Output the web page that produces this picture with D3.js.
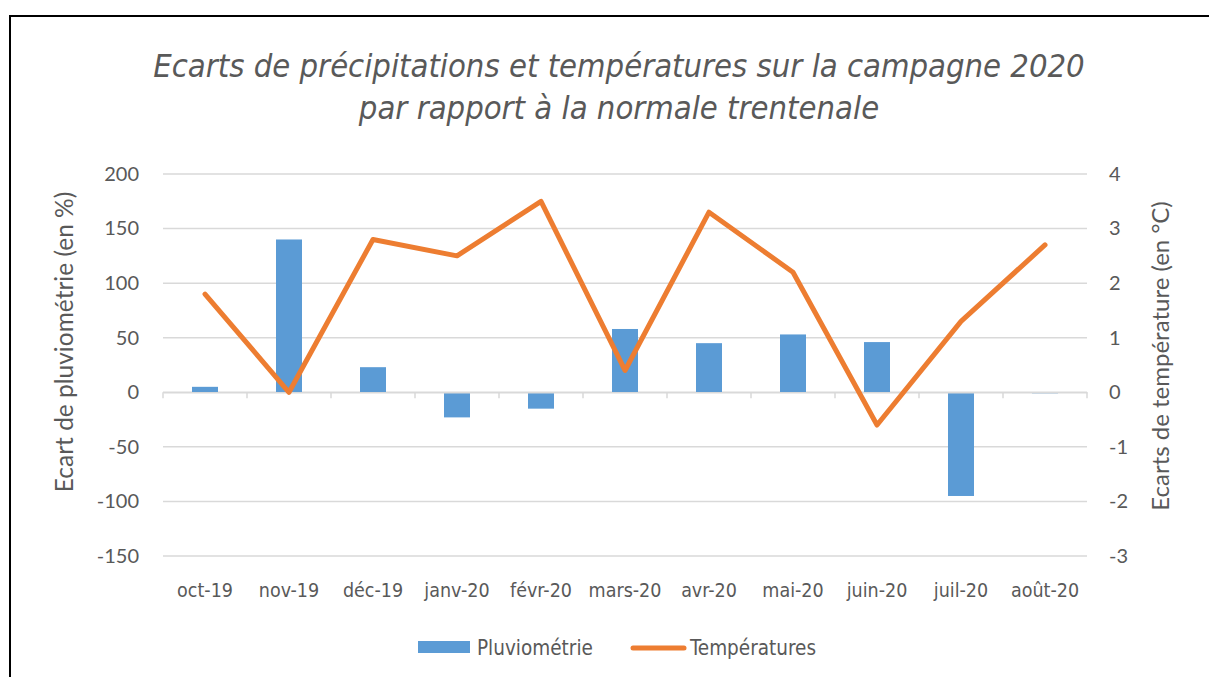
<!DOCTYPE html>
<html>
<head>
<meta charset="utf-8">
<script src="https://cdn.jsdelivr.net/npm/d3@7"></script>
<style>
body { margin: 0; background: #fff; }
text { fill: #595959; }
.tick text { font-family: Lato, "Open Sans", sans-serif; font-size: 20px; }
.cat text { font-family: "DejaVu Sans Condensed", "DejaVu Sans", sans-serif; font-size: 19.5px; }
</style>
</head>
<body>
<div id="graph"></div>
<script>
var months = ['oct-19', 'nov-19', 'déc-19', 'janv-20', 'févr-20', 'mars-20', 'avr-20', 'mai-20', 'juin-20', 'juil-20', 'août-20'];
var pluvio = [5, 140, 23, -23, -15, 58, 45, 53, 46, -95, -1];
var temps = [1.8, 0, 2.8, 2.5, 3.5, 0.4, 3.3, 2.2, -0.6, 1.3, 2.7];
var leftTicks = [-150, -100, -50, 0, 50, 100, 150, 200];
var rightTicks = [-3, -2, -1, 0, 1, 2, 3, 4];

var svgWidth = 1209, svgHeight = 677;
var svg = d3.select('#graph').append('svg').attr('width', svgWidth).attr('height', svgHeight);

// frame
svg.append('rect').attr('x', 10).attr('y', 16).attr('width', 1230).attr('height', 700)
  .attr('fill', 'none').attr('stroke', '#000').attr('stroke-width', 2);

var plotL = 163, plotR = 1087, plotT = 174, plotB = 556;

var x = d3.scaleBand().domain(months).range([plotL, plotR]);
var y = d3.scaleLinear().domain([-150, 200]).range([plotB, plotT]);
var y2 = d3.scaleLinear().domain([-3, 4]).range([plotB, plotT]);

// title
var title = svg.append('text').attr('text-anchor', 'middle')
  .style('font-family', '"DejaVu Sans Condensed", "DejaVu Sans", sans-serif')
  .style('font-style', 'italic').style('font-size', '32.5px');
title.append('tspan').attr('x', 619).attr('y', 77).text('Ecarts de précipitations et températures sur la campagne 2020');
title.append('tspan').attr('x', 619).attr('y', 119).text('par rapport à la normale trentenale');

// grid
svg.append('g').selectAll('line').data(leftTicks).enter().append('line')
  .attr('x1', plotL).attr('x2', plotR)
  .attr('y1', function(d) { return y(d); }).attr('y2', function(d) { return y(d); })
  .attr('stroke', '#d9d9d9').attr('stroke-width', 1.5);

var fmt = function(d) { return String(d); };

// left axis
var gl = svg.append('g').attr('transform', 'translate(' + (plotL - 24) + ',0)')
  .call(d3.axisLeft(y).tickValues(leftTicks).tickSize(0).tickPadding(0).tickFormat(fmt));
gl.select('.domain').remove();

// right axis
var gr = svg.append('g').attr('transform', 'translate(' + (plotR + 22) + ',0)')
  .call(d3.axisRight(y2).tickValues(rightTicks).tickSize(0).tickPadding(0).tickFormat(fmt));
gr.select('.domain').remove();

// bars
svg.append('g').selectAll('rect').data(pluvio).enter().append('rect')
  .attr('x', function(d, i) { return x(months[i]) + x.bandwidth() / 2 - 13; })
  .attr('width', 26)
  .attr('y', function(d) { return y(Math.max(0, d)); })
  .attr('height', function(d) { return Math.abs(y(d) - y(0)); })
  .attr('fill', '#5b9bd5');

// category axis at zero
var gx = svg.append('g').attr('transform', 'translate(0,' + y(0) + ')')
  .call(d3.axisBottom(x).tickSize(0).tickFormat(''));
gx.select('.domain').attr('stroke', '#d9d9d9').attr('stroke-width', 1.5);
gx.append('g').selectAll('line').data(d3.range(months.length + 1)).enter().append('line')
  .attr('x1', function(i) { return plotL + i * x.step(); })
  .attr('x2', function(i) { return plotL + i * x.step(); })
  .attr('y1', 0).attr('y2', 6)
  .attr('stroke', '#d9d9d9').attr('stroke-width', 1.5);

// category labels at bottom
svg.append('g').attr('class', 'cat').selectAll('text').data(months).enter().append('text')
  .attr('x', function(d) { return x(d) + x.bandwidth() / 2; })
  .attr('y', 597)
  .attr('text-anchor', 'middle')
  .text(function(d) { return d; });

// temperature line
var line = d3.line()
  .x(function(d, i) { return x(months[i]) + x.bandwidth() / 2; })
  .y(function(d) { return y2(d); });
svg.append('path').datum(temps).attr('d', line)
  .attr('fill', 'none').attr('stroke', '#ed7d31').attr('stroke-width', 5)
  .attr('stroke-linejoin', 'round').attr('stroke-linecap', 'round');

// axis titles
svg.append('text').attr('transform', 'translate(73,342) rotate(-90)')
  .attr('text-anchor', 'middle')
  .style('font-family', 'Lato, "Open Sans", sans-serif').style('font-size', '24.5px')
  .text('Ecart de pluviométrie (en %)');
svg.append('text').attr('transform', 'translate(1169,356) rotate(-90)')
  .attr('text-anchor', 'middle')
  .style('font-family', 'Lato, "Open Sans", sans-serif').style('font-size', '24px')
  .text('Ecarts de température (en °C)');

// legend
var lg = svg.append('g').style('font-family', '"DejaVu Sans Condensed", "DejaVu Sans", sans-serif').style('font-size', '20.5px');
lg.append('rect').attr('x', 418).attr('y', 641).attr('width', 52).attr('height', 12).attr('fill', '#5b9bd5');
lg.append('text').attr('x', 477).attr('y', 655).text('Pluviométrie');
lg.append('line').attr('x1', 633).attr('x2', 684).attr('y1', 648).attr('y2', 648)
  .attr('stroke', '#ed7d31').attr('stroke-width', 5).attr('stroke-linecap', 'round');
lg.append('text').attr('x', 690).attr('y', 655).text('Températures');
</script>
</body>
</html>
